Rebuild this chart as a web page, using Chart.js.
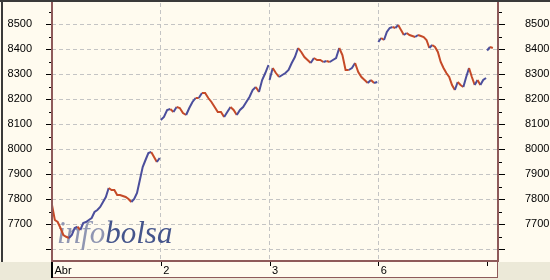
<!DOCTYPE html>
<html>
<head>
<meta charset="utf-8">
<script src="https://cdn.jsdelivr.net/npm/chart.js@4.4.0/dist/chart.umd.min.js"></script>
<style>
  html, body { margin: 0; padding: 0; background: #ECE9D8; }
  #wrap { width: 550px; height: 280px; }
</style>
</head>
<body>
<div id="wrap"><canvas id="chart" width="550" height="280"></canvas></div>
<script>
// intraday index level, one array per session (equal time steps)
const dayLabels = ['Abr', '2', '3', '6', ''];
const apr1 = [7777, 7717, 7709, 7685, 7657, 7650, 7645, 7657, 7685, 7690, 7677, 7705, 7709, 7717, 7725,
    7749, 7757, 7769, 7789, 7809, 7845, 7837, 7837, 7817, 7817, 7813, 7809, 7801, 7789, 7801, 7825,
    7877, 7929, 7957, 7985, 7989, 7969, 7949, 7965];
const apr2 = [8117, 8129, 8157, 8161, 8149, 8169, 8165, 8145, 8137, 8165, 8189, 8205, 8205, 8225, 8225,
    8205, 8189, 8169, 8149, 8149, 8129, 8149, 8169, 8157, 8137, 8157, 8169, 8189, 8209, 8237, 8249,
    8229, 8277, 8305, 8337];
const apr3 = [8277, 8325, 8305, 8289, 8297, 8305, 8317, 8345, 8369, 8405, 8389, 8369, 8357, 8345, 8365,
    8357, 8357, 8349, 8353, 8349, 8357, 8365, 8405, 8377, 8317, 8317, 8325, 8345, 8309, 8289, 8277,
    8265, 8277, 8265, 8269];
const apr6 = [8429, 8445, 8437, 8469, 8485, 8489, 8485, 8497, 8477, 8457, 8465, 8457, 8453, 8449, 8457,
    8453, 8449, 8437, 8405, 8417, 8409, 8389, 8349, 8325, 8305, 8289, 8257, 8237, 8269, 8257, 8249,
    8289, 8325, 8289, 8257, 8277, 8257, 8277, 8285];
const apr7 = [8395, 8409, 8405];
const yTicks = [7600, 7700, 7800, 7900, 8000, 8100, 8200, 8300, 8400, 8500];

const CREAM = '#FFFBEF';
const BROWN = '#8E5A5A';
const GRID = '#C4C4C4';
const UP = '#4B4E9C';
const DOWN = '#C54A28';
const FONT = { family: 'Liberation Sans', size: 11 };

const sessions = [apr1, apr2, apr3, apr6, apr7];
const points = [];
sessions.forEach((vals, d) => {
    const partial = d === sessions.length - 1;
    const step = partial ? 1 / 38 : 0.99 / (vals.length - 1);
    vals.forEach((v, i) => points.push({ x: d + i * step, y: v }));
    points.push({ x: d + 0.995, y: null });
});

// fixed box sizes, no automatic label padding
const fixWidth = s => {
    s.width = 52;
    s.paddingTop = 0;
    s.paddingBottom = 0;
};

const frame = {
    id: 'frame',
    beforeDraw(chart) {
        const c = chart.ctx;
        c.save();
        c.fillStyle = '#ECE9D8';
        c.fillRect(0, 0, 550, 280);
        c.fillStyle = CREAM;
        c.fillRect(0, 0, 550, 262);
        c.fillRect(51, 262, 447, 16);
        c.fillStyle = '#3A3A3A';
        c.fillRect(0, 0, 550, 2);
        c.fillRect(1, 0, 2, 262);
        c.restore();
    },
    beforeDatasetsDraw(chart) {
        const c = chart.ctx;
        c.save();
        c.font = 'italic 31px "Liberation Serif"';
        c.textBaseline = 'alphabetic';
        c.fillStyle = '#9096B2';
        c.fillText('info', 57, 243);
        const w = c.measureText('info').width;
        c.fillStyle = '#45558C';
        c.fillText('bolsa', 57 + w, 243);
        c.restore();
    },
    afterDraw(chart) {
        const c = chart.ctx;
        const ys = chart.scales.y;
        const xs = chart.scales.x;
        c.save();
        c.fillStyle = BROWN;
        c.fillRect(51, 2, 2, 260);
        c.fillRect(497, 2, 2, 260);
        c.fillRect(51, 260, 448, 2);
        c.fillRect(51, 277, 447, 1);
        c.fillRect(497, 262, 1, 16);
        c.fillStyle = '#000';
        c.fillRect(51, 262, 2, 16);
        yTicks.forEach(v => {
            const py = Math.round(ys.getPixelForValue(v));
            c.fillRect(46, py, 5, 1);
            c.fillRect(499, py, 6, 1);
            const pm = Math.round(ys.getPixelForValue(v + 50));
            if (pm > 3) {
                c.fillRect(49, pm, 2, 1);
                c.fillRect(499, pm, 3, 1);
            }
        });
        for (let d = 1; d < dayLabels.length; d++) {
            const px = Math.round(xs.getPixelForValue(d));
            c.fillRect(px, 262, 1, 4);
        }
        c.restore();
    }
};

new Chart(document.getElementById('chart'), {
    type: 'line',
    data: {
        datasets: [{
            data: points,
            borderWidth: 2,
            pointRadius: 0,
            tension: 0,
            spanGaps: false,
            borderColor: DOWN,
            segment: {
                borderColor: c => c.p1.parsed.y > c.p0.parsed.y ? UP : DOWN
            }
        }]
    },
    options: {
        responsive: false,
        animation: false,
        layout: { padding: { top: 3, left: 0, right: 0, bottom: 0 }, autoPadding: false },
        plugins: { legend: { display: false }, tooltip: { enabled: false } },
        scales: {
            x: {
                type: 'linear',
                min: 0,
                max: 4.1,
                afterFit: s => {
                    s.height = 19;
                    s.paddingLeft = 0;
                    s.paddingRight = 0;
                },
                afterBuildTicks: s => { s.ticks = dayLabels.map((_, i) => ({ value: i })); },
                ticks: {
                    callback: (v, i) => dayLabels[i],
                    align: 'start',
                    labelOffset: 2.5,
                    padding: 3,
                    autoSkip: false,
                    maxRotation: 0,
                    color: '#000',
                    font: FONT
                },
                grid: {
                    color: c => (c.tick && c.tick.value > 0 && c.tick.value < 4) ? GRID : 'rgba(0,0,0,0)',
                    drawTicks: false
                },
                border: { display: false, dash: [4, 3] }
            },
            y: {
                position: 'left',
                min: 7553,
                max: 8585,
                afterFit: fixWidth,
                afterBuildTicks: s => { s.ticks = yTicks.map(v => ({ value: v })); },
                ticks: {
                    callback: v => v === yTicks[0] ? '' : String(v),
                    padding: 20,
                    color: '#000',
                    font: FONT
                },
                grid: { color: GRID, drawTicks: false },
                border: { display: false, dash: [4, 3] }
            },
            y2: {
                position: 'right',
                min: 7553,
                max: 8585,
                afterFit: fixWidth,
                afterBuildTicks: s => { s.ticks = yTicks.map(v => ({ value: v })); },
                ticks: {
                    callback: v => v === yTicks[0] ? '' : String(v),
                    padding: 19,
                    color: '#000',
                    font: FONT
                },
                grid: { display: false },
                border: { display: false }
            }
        }
    },
    plugins: [frame]
});
</script>
</body>
</html>
